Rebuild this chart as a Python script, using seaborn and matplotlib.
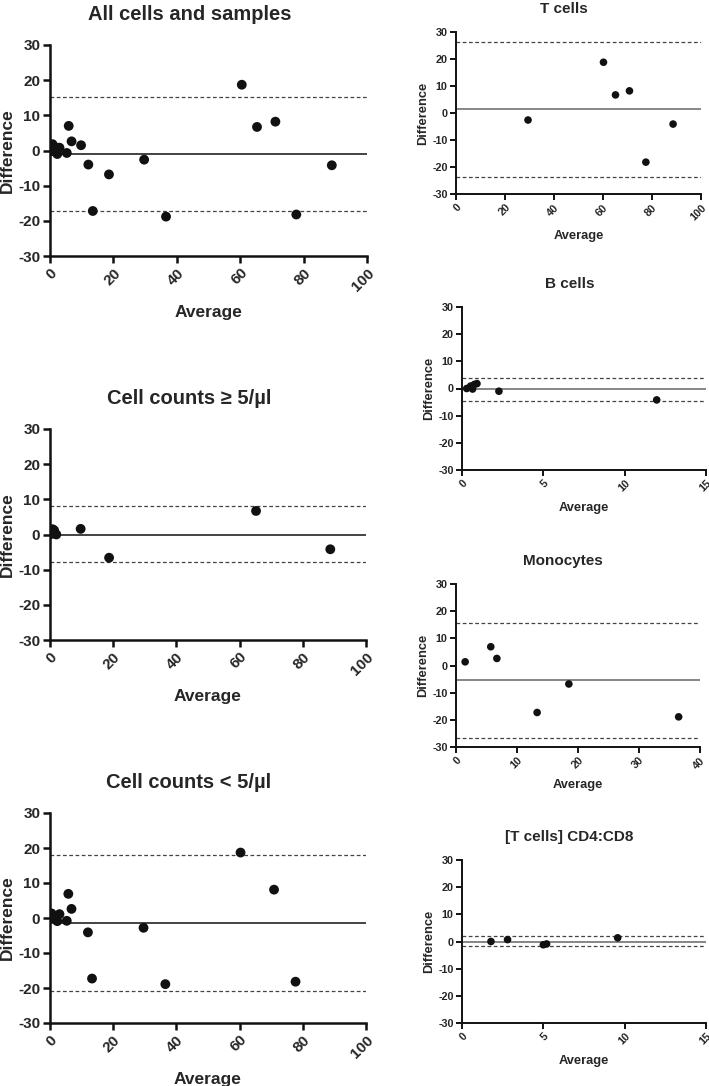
import matplotlib
matplotlib.use("Agg")
import matplotlib.pyplot as plt
import seaborn as sns
import pandas as pd

sns.set_style("ticks")
plt.rcParams['font.family'] = ['Liberation Sans', 'DejaVu Sans']
plt.rcParams['font.weight'] = 'bold'
plt.rcParams['axes.unicode_minus'] = False

# --- data ---
all_x = [60.5, 65.3, 71.1, 88.9, 77.7, 36.6, 13.5, 29.7, 18.6, 12.1, 9.8, 6.8, 5.9, 5.3,
         0.3, 0.8, 1.2, 1.8, 2.3, 3.0, 1.5, 0.5]
all_y = [18.7, 6.7, 8.2, -4.2, -18.2, -18.8, -17.2, -2.6, -6.8, -4.0, 1.5, 2.6, 7.0, -0.7,
         0.2, 1.8, 0.5, -0.3, -1.0, 0.8, 1.0, -0.2]
all_lines = [-0.9, 15.3, -17.1]

hi_x = [65.2, 88.7, 18.7, 9.7, 0.3, 0.8, 1.3, 2.0]
hi_y = [6.7, -4.2, -6.6, 1.6, 0.1, 1.5, 1.2, 0.0]
hi_lines = [0.0, 8.1, -7.8]

lo_x = [60.3, 70.9, 77.7, 36.5, 13.3, 29.6, 12.0, 6.8, 5.8, 5.3, 0.5, 1.3, 2.3, 3.0, 0.9]
lo_y = [18.7, 8.1, -18.2, -18.9, -17.3, -2.8, -4.1, 2.6, 6.9, -0.8, 1.3, -0.1, -0.9, 1.1, 0.4]
lo_lines = [-1.5, 17.9, -20.8]

t_x = [60.2, 65.1, 70.8, 88.6, 77.5, 29.4]
t_y = [18.8, 6.7, 8.2, -4.1, -18.2, -2.6]
t_lines = [1.5, 26.4, -23.6]

b_x = [0.29, 0.53, 0.65, 0.76, 0.92, 2.27, 11.97]
b_y = [0.0, 0.9, -0.2, 1.5, 1.8, -1.0, -4.2]
b_lines = [-0.2, 3.7, -4.5]

m_x = [1.5, 5.7, 6.7, 13.3, 18.5, 36.5]
m_y = [1.35, 6.9, 2.6, -17.3, -6.8, -18.9]
m_lines = [-5.4, 15.7, -26.6]

cd_x = [1.78, 2.8, 5.0, 5.2, 9.57]
cd_y = [0.0, 0.7, -1.2, -0.9, 1.35]
cd_lines = [0.0, 2.0, -1.7]

W, H = 709, 1086
fig = plt.figure(figsize=(W / 100, H / 100), dpi=100)


def panel(box, title, xs, ys, lines, xmax, xstep, big):
    l, t, r, b = box
    ax = fig.add_axes([l / W, 1 - b / H, (r - l) / W, (b - t) / H])
    df = pd.DataFrame({"Average": xs, "Difference": ys})
    sns.scatterplot(data=df, x="Average", y="Difference", ax=ax,
                    color="#111111", s=50 if big else 30, edgecolor="none", zorder=3)
    mean, up, low = lines
    ax.axhline(mean, color="#111111" if big else "#666666", lw=1.1, zorder=2)
    for v in (up, low):
        ax.axhline(v, color="#444444", lw=0.9, dashes=(3, 2), zorder=2)
    ax.set_xlim(0, xmax)
    ax.set_ylim(-30, 30)
    ax.set_xticks(range(0, xmax + 1, xstep))
    ax.set_yticks(range(-30, 31, 10))
    sns.despine(ax=ax)
    lw = 1.8 if big else 1.4
    for s in ("left", "bottom"):
        ax.spines[s].set_linewidth(lw)
        ax.spines[s].set_color("#111111")
    tick_fs = 11 if big else 7.8
    ax.tick_params(axis="both", direction="out", length=5 if big else 4, width=lw,
                   color="#111111", labelsize=tick_fs, pad=2)
    for lab in ax.get_xticklabels():
        lab.set_rotation(45)
        lab.set_ha("right")
        lab.set_rotation_mode("anchor")
        lab.set_fontweight("bold")
    for lab in ax.get_yticklabels():
        lab.set_fontweight("bold")
    ax.set_xlabel("Average", fontsize=12.5 if big else 9.3, fontweight="bold",
                  labelpad=8 if big else 6)
    ax.set_ylabel("Difference", fontsize=12.5 if big else 9.3, fontweight="bold",
                  labelpad=2)
    ax.set_title(title, fontsize=14.5 if big else 11, fontweight="bold",
                 x=0.44, pad=18 if big else 13.5)
    return ax


panel((50, 45, 367, 256), "All cells and samples", all_x, all_y, all_lines, 100, 20, True)
panel((50, 429, 366, 640), "Cell counts \u2265 5/\u00b5l", hi_x, hi_y, hi_lines, 100, 20, True)
panel((50, 813, 366, 1023), "Cell counts < 5/\u00b5l", lo_x, lo_y, lo_lines, 100, 20, True)
panel((456, 32, 701, 194), "T cells", t_x, t_y, t_lines, 100, 20, False)
panel((462, 307, 706, 470), "B cells", b_x, b_y, b_lines, 15, 5, False)
panel((456, 584, 700, 747), "Monocytes", m_x, m_y, m_lines, 40, 10, False)
panel((462, 860, 706, 1023), "[T cells] CD4:CD8", cd_x, cd_y, cd_lines, 15, 5, False)

fig.savefig("out.png", dpi=100)
